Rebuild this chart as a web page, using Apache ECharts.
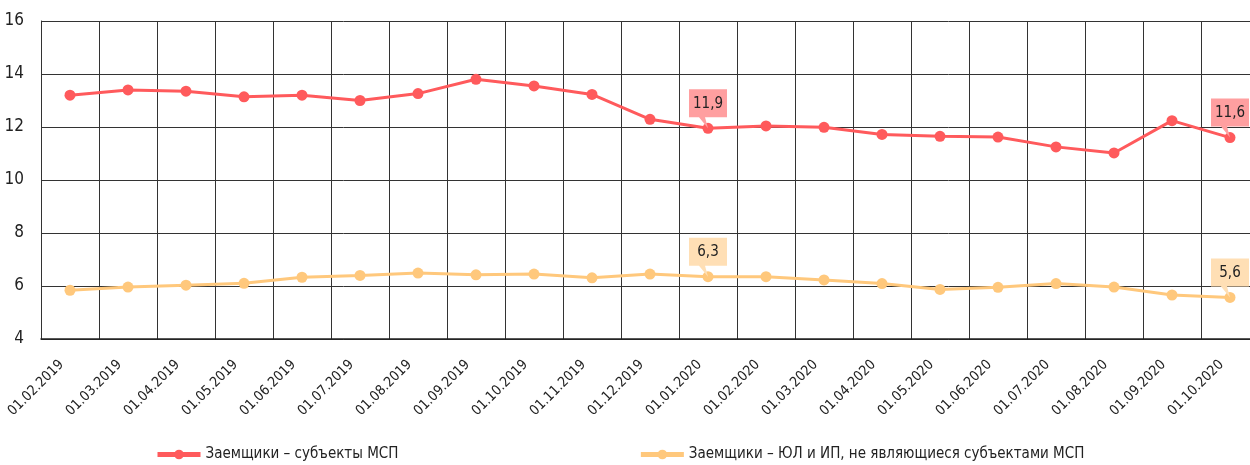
<!DOCTYPE html>
<html>
<head>
<meta charset="utf-8">
<script src="https://cdn.jsdelivr.net/npm/echarts@6/dist/echarts.min.js"></script>
<style>html,body{margin:0;padding:0;background:#fff}#c{width:1250px;height:465px}</style>
</head>
<body>
<div id="c"></div>
<script>
const categories = ['01.02.2019','01.03.2019','01.04.2019','01.05.2019','01.06.2019','01.07.2019','01.08.2019','01.09.2019','01.10.2019','01.11.2019','01.12.2019','01.01.2020','01.02.2020','01.03.2020','01.04.2020','01.05.2020','01.06.2020','01.07.2020','01.08.2020','01.09.2020','01.10.2020'];
const smeBorrowers = [13.2,13.4,13.35,13.14,13.2,13.0,13.26,13.8,13.55,13.23,12.29,11.95,12.04,11.99,11.72,11.65,11.62,11.25,11.02,12.24,11.6];
const nonSmeBorrowers = [5.84,5.96,6.03,6.1,6.33,6.4,6.49,6.42,6.45,6.31,6.45,6.35,6.35,6.23,6.09,5.87,5.95,6.09,5.96,5.66,5.57];
const seriesNames = ['Заемщики – субъекты МСП','Заемщики – ЮЛ и ИП, не являющиеся субъектами МСП'];
const labelledIdx = [11, 20];
const smeLabels = ['11,9','11,6'];
const nonSmeLabels = ['6,3','5,6'];
const yTicks = {min: 4, max: 16, interval: 2};

const FONT = "'DejaVu Sans Condensed',Roboto,sans-serif";
const calloutPath = 'path://M0,0 H38 V28 H16 L19,39 L10,28 H0 Z';

function markPts(values, labels, bg) {
  return {
    symbol: calloutPath,
    symbolSize: [38, 39],
    symbolKeepAspect: false,
    symbolOffset: [0, -19.5],
    itemStyle: {color: bg},
    label: {show: true, color: '#222', fontFamily: FONT, fontSize: 15, offset: [0, -5]},
    data: labelledIdx.map((idx, k) => ({coord: [idx, values[idx]], value: labels[k]})),
    animation: false
  };
}

const chart = echarts.init(document.getElementById('c'));
chart.setOption({
  animation: false,
  textStyle: {fontFamily: FONT},
  grid: {left: 41, top: 21, width: 1218, height: 318, containLabel: false, outerBoundsMode: 'none'},
  legend: {
    top: 442, left: 150, itemGap: 240, itemWidth: 43, itemHeight: 12,
    lineStyle: {width: 5},
    textStyle: {fontFamily: FONT, fontSize: 15, color: '#222'},
    data: seriesNames
  },
  xAxis: {
    type: 'category', data: categories, boundaryGap: true,
    axisLine: {show: true, lineStyle: {color: '#222', width: 1.5}},
    axisTick: {show: false},
    splitLine: {show: true, lineStyle: {color: '#333', width: 1}},
    axisLabel: {rotate: 45, interval: 0, margin: 15, padding: [0, 12, 0, 0], fontFamily: FONT, fontSize: 14, color: '#222'}
  },
  yAxis: {
    type: 'value', min: yTicks.min, max: yTicks.max, interval: yTicks.interval,
    axisLine: {show: true, lineStyle: {color: '#333', width: 1}},
    axisTick: {show: false},
    splitLine: {show: true, lineStyle: {color: '#333', width: 1}},
    axisLabel: {margin: 17, fontFamily: FONT, fontSize: 17, color: '#222'}
  },
  series: [
    {
      name: seriesNames[0], type: 'line', data: smeBorrowers,
      symbol: 'circle', symbolSize: 11, showSymbol: true,
      lineStyle: {color: '#FF5A5C', width: 3}, itemStyle: {color: '#FF5A5C'},
      markPoint: markPts(smeBorrowers, smeLabels, '#FF9FA0'), z: 3
    },
    {
      name: seriesNames[1], type: 'line', data: nonSmeBorrowers,
      symbol: 'circle', symbolSize: 11, showSymbol: true,
      lineStyle: {color: '#FFC87C', width: 3}, itemStyle: {color: '#FFC87C'},
      markPoint: markPts(nonSmeBorrowers, nonSmeLabels, '#FFDFB5'), z: 2
    }
  ]
});
</script>
</body>
</html>
